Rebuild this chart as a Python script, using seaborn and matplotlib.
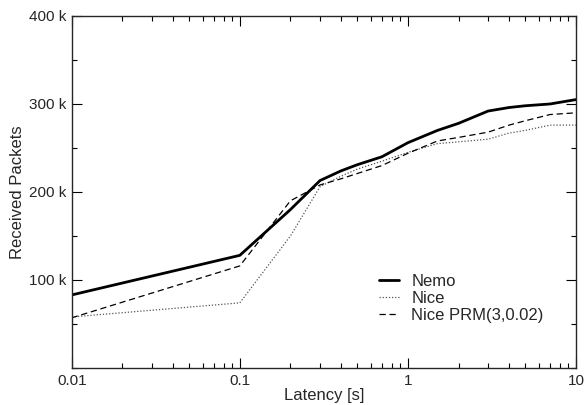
import numpy as np
import pandas as pd
import seaborn as sns
import matplotlib
matplotlib.use("Agg")
import matplotlib.pyplot as plt
from matplotlib.ticker import FixedLocator, FuncFormatter, MultipleLocator, NullFormatter

latency = [0.01, 0.1, 0.2, 0.3, 0.4, 0.5, 0.7, 1, 1.5, 2, 3, 4, 5, 7, 10]
nemo = [83, 128, 180, 213, 224, 231, 240, 256, 270, 278, 292, 296, 298, 300, 305]
nice = [58, 74, 150, 206, 218, 226, 235, 245, 255, 257, 260, 267, 270, 276, 276]
nice_prm = [57, 116, 190, 208, 215, 221, 230, 244, 258, 262, 268, 276, 281, 288, 290]

series = ["Nemo", "Nice", "Nice PRM(3,0.02)"]
df = pd.DataFrame({
    "Latency": latency * 3,
    "Packets": [v * 1000 for v in nemo + nice + nice_prm],
    "Series": sum([[s] * len(latency) for s in series], []),
})

sns.set_style("ticks")
plt.rcParams["font.family"] = ["Liberation Sans", "DejaVu Sans"]

fig = plt.figure(figsize=(5.85, 4.05), dpi=100)
ax = fig.add_axes([0.1226, 0.0914, 0.8620, 0.8691])

styles = {
    "Nemo": dict(color="black", linestyle="-", linewidth=2.0),
    "Nice": dict(color="#555555", linestyle=(0, (1, 1.5)), linewidth=0.9),
    "Nice PRM(3,0.02)": dict(color="black", linestyle=(0, (5, 3)), linewidth=0.9),
}
for s in series:
    sns.lineplot(data=df[df["Series"] == s], x="Latency", y="Packets", ax=ax,
                 label=s, **styles[s])

ax.set_xscale("log")
ax.set_xlim(0.01, 10)
ax.set_ylim(0, 400000)
ax.xaxis.set_major_locator(FixedLocator([0.01, 0.1, 1, 10]))
ax.xaxis.set_major_formatter(FuncFormatter(lambda v, p: f"{v:g}"))
ax.yaxis.set_major_locator(FixedLocator([100000, 200000, 300000, 400000]))
ax.yaxis.set_major_formatter(FuncFormatter(lambda v, p: f"{int(v/1000)} k"))
ax.yaxis.set_minor_locator(MultipleLocator(50000))

for sp in ax.spines.values():
    sp.set_linewidth(1.0)

ax.set_xlabel("Latency [s]", fontsize=12, labelpad=0)
ax.set_ylabel("Received Packets", fontsize=12, labelpad=3)

leg = ax.legend(loc="upper left", bbox_to_anchor=(0.61, 0.268), frameon=False,
                fontsize=12, handlelength=1.2, handletextpad=0.72,
                labelspacing=0.12, borderaxespad=0, borderpad=0)

# minor log ticks on x, set last so nothing resets them
minor_x = [k * 10.0 ** e for e in (-2, -1, 0) for k in range(2, 10)]
ax.set_xticks(minor_x, minor=True)
ax.xaxis.set_minor_formatter(NullFormatter())
ax.tick_params(which="both", direction="in", top=True, right=True, labelsize=11,
               width=0.8, color="black")
ax.tick_params(which="major", length=7.2, pad=4)
ax.tick_params(which="minor", length=3.6)

fig.canvas.draw()
fig.savefig("out.png", dpi=100)
